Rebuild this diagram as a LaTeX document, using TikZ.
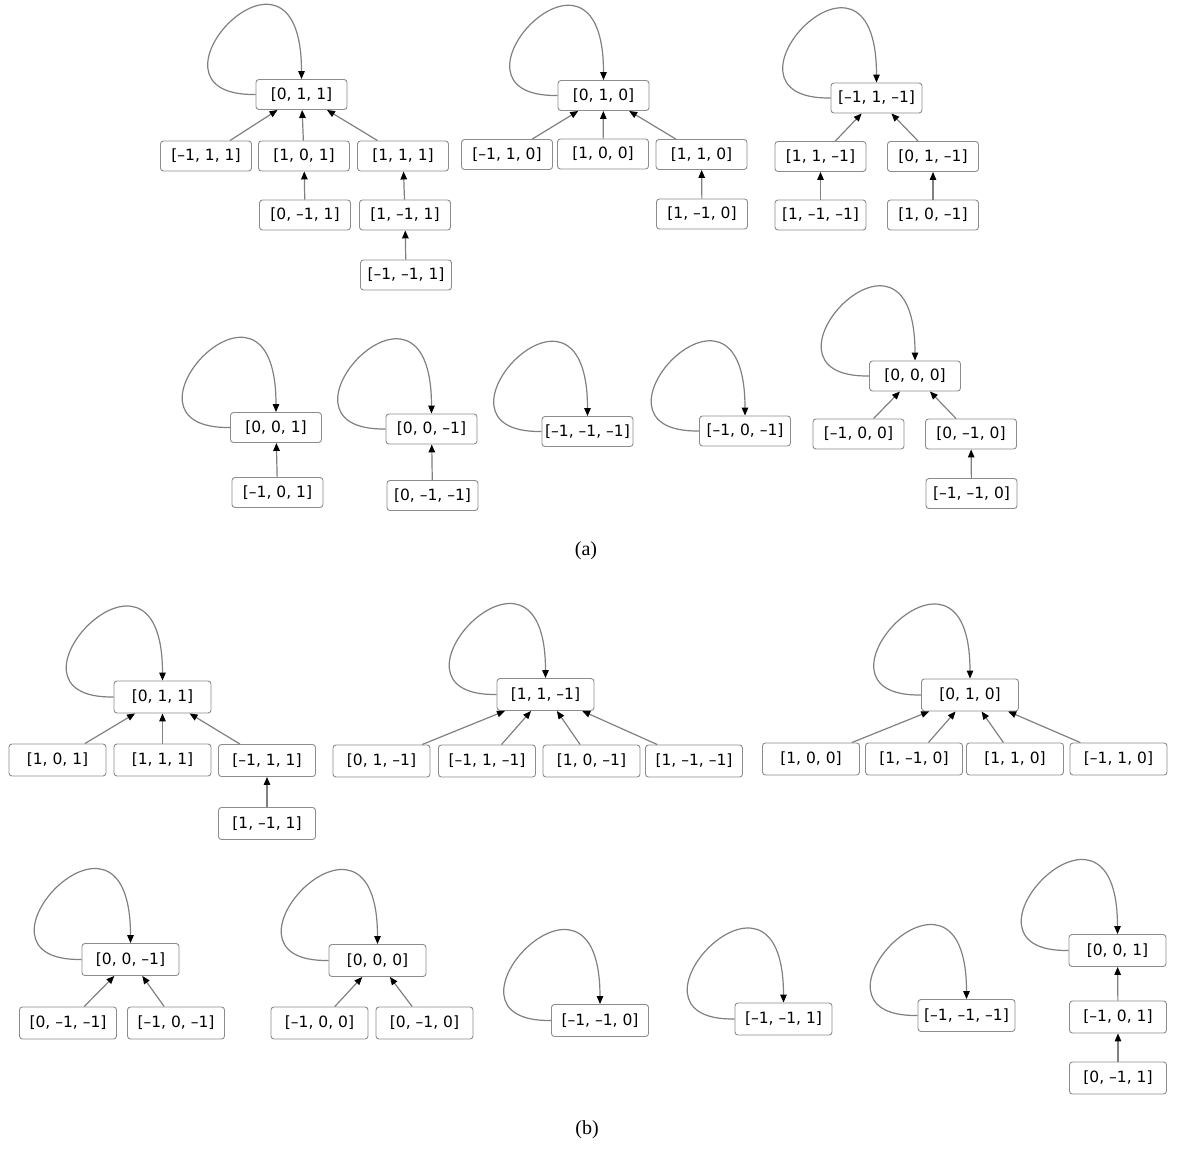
\documentclass[tikz,border=0pt]{standalone}
\usepackage{fontspec}
\newfontfamily\dv{DejaVu Sans}
\newfontfamily\lserif{Liberation Serif}
\usetikzlibrary{arrows.meta}
\tikzset{
  nda/.style={draw=black!45, rounded corners=3pt, minimum width=91pt, minimum height=30pt,
    inner xsep=1pt, inner ysep=0pt, line width=0.9pt, font=\dv\fontsize{15.5}{18}\selectfont},
  ndb/.style={nda, minimum width=97pt, minimum height=32pt},
  ed/.style={draw=black!50, line width=1.2pt, -{Triangle[length=8pt,width=6.5pt,color=black]}},
  lp/.style={ed},
  captxt/.style={font=\lserif\fontsize{20}{24}\selectfont}
}
\newcommand{\selfloop}[1]{\draw[lp] (#1.west) .. controls +(-130,2) and +(0,-172) .. (#1.north);}
\begin{document}
\begin{tikzpicture}[x=1pt,y=-1pt]
\useasboundingbox (0,0) rectangle (1179,1164);
% ---------- (a) ----------
\node[nda] (a011) at (301.5,94.5) {[0, 1, 1]};
\node[nda] (am111) at (206,156) {[–1, 1, 1]};
\node[nda] (a101) at (304,156) {[1, 0, 1]};
\node[nda] (a111) at (403,156) {[1, 1, 1]};
\node[nda] (a0m11) at (305,215) {[0, –1, 1]};
\node[nda] (a1m11) at (405,215) {[1, –1, 1]};
\node[nda] (am1m11) at (406,275) {[–1, –1, 1]};
\selfloop{a011}
\draw[ed] (am111) -- (a011);
\draw[ed] (a101) -- (a011);
\draw[ed] (a111) -- (a011);
\draw[ed] (a0m11) -- (a101);
\draw[ed] (a1m11) -- (a111);
\draw[ed] (am1m11) -- (a1m11);

\node[nda] (a010) at (603.5,95.5) {[0, 1, 0]};
\node[nda] (am110) at (507,154.5) {[–1, 1, 0]};
\node[nda] (a100) at (603,154) {[1, 0, 0]};
\node[nda] (a110) at (701.5,154.5) {[1, 1, 0]};
\node[nda] (a1m10) at (702,214) {[1, –1, 0]};
\selfloop{a010}
\draw[ed] (am110) -- (a010);
\draw[ed] (a100) -- (a010);
\draw[ed] (a110) -- (a010);
\draw[ed] (a1m10) -- (a110);

\node[nda] (am11m1) at (876.5,98) {[–1, 1, –1]};
\node[nda] (a11m1) at (820.5,156.5) {[1, 1, –1]};
\node[nda] (a01m1) at (933,156.5) {[0, 1, –1]};
\node[nda] (a1m1m1) at (820.5,215) {[1, –1, –1]};
\node[nda] (a10m1) at (933,215) {[1, 0, –1]};
\selfloop{am11m1}
\draw[ed] (a11m1) -- (am11m1);
\draw[ed] (a01m1) -- (am11m1);
\draw[ed] (a1m1m1) -- (a11m1);
\draw[ed] (a10m1) -- (a01m1);

\node[nda] (a001) at (276,427.5) {[0, 0, 1]};
\node[nda] (am101) at (277.5,492.5) {[–1, 0, 1]};
\selfloop{a001}
\draw[ed] (am101) -- (a001);

\node[nda] (a00m1) at (431.5,429) {[0, 0, –1]};
\node[nda] (a0m1m1) at (432.5,495.5) {[0, –1, –1]};
\selfloop{a00m1}
\draw[ed] (a0m1m1) -- (a00m1);

\node[nda] (am1m1m1) at (587.5,431.5) {[–1, –1, –1]};
\selfloop{am1m1m1}

\node[nda] (am10m1) at (745,431) {[–1, 0, –1]};
\selfloop{am10m1}

\node[nda] (a000) at (915,376) {[0, 0, 0]};
\node[nda] (am100) at (858.5,434) {[–1, 0, 0]};
\node[nda] (a0m10) at (971,434) {[0, –1, 0]};
\node[nda] (am1m10) at (971.5,493.5) {[–1, –1, 0]};
\selfloop{a000}
\draw[ed] (am100) -- (a000);
\draw[ed] (a0m10) -- (a000);
\draw[ed] (am1m10) -- (a0m10);

\node[captxt] (capa) at (586,551) {(a)};

% ---------- (b) ----------
\node[ndb] (b011) at (162.5,697) {[0, 1, 1]};
\node[ndb] (b101) at (57.5,760) {[1, 0, 1]};
\node[ndb] (b111) at (162.5,760) {[1, 1, 1]};
\node[ndb] (bm111) at (267,760.5) {[–1, 1, 1]};
\node[ndb] (b1m11) at (267,823.5) {[1, –1, 1]};
\selfloop{b011}
\draw[ed] (b101) -- (b011);
\draw[ed] (b111) -- (b011);
\draw[ed] (bm111) -- (b011);
\draw[ed] (b1m11) -- (bm111);

\node[ndb] (b11m1) at (545.5,694.5) {[1, 1, –1]};
\node[ndb] (b01m1) at (381.5,761) {[0, 1, –1]};
\node[ndb] (bm11m1) at (487,761) {[–1, 1, –1]};
\node[ndb] (b10m1) at (591.5,761) {[1, 0, –1]};
\node[ndb] (b1m1m1) at (694,761) {[1, –1, –1]};
\selfloop{b11m1}
\draw[ed] (b01m1) -- (b11m1);
\draw[ed] (bm11m1) -- (b11m1);
\draw[ed] (b10m1) -- (b11m1);
\draw[ed] (b1m1m1) -- (b11m1);

\node[ndb] (b010) at (970,695) {[0, 1, 0]};
\node[ndb] (b100) at (811,759) {[1, 0, 0]};
\node[ndb] (b1m10) at (914,759) {[1, –1, 0]};
\node[ndb] (b110) at (1015,759) {[1, 1, 0]};
\node[ndb] (bm110) at (1118.5,759) {[–1, 1, 0]};
\selfloop{b010}
\draw[ed] (b100) -- (b010);
\draw[ed] (b1m10) -- (b010);
\draw[ed] (b110) -- (b010);
\draw[ed] (bm110) -- (b010);

\node[ndb] (b00m1) at (130.5,959.5) {[0, 0, –1]};
\node[ndb] (b0m1m1) at (68,1023) {[0, –1, –1]};
\node[ndb] (bm10m1) at (176,1023) {[–1, 0, –1]};
\selfloop{b00m1}
\draw[ed] (b0m1m1) -- (b00m1);
\draw[ed] (bm10m1) -- (b00m1);

\node[ndb] (b000) at (377.5,960.5) {[0, 0, 0]};
\node[ndb] (bm100) at (319.5,1023) {[–1, 0, 0]};
\node[ndb] (b0m10) at (424.5,1023) {[0, –1, 0]};
\selfloop{b000}
\draw[ed] (bm100) -- (b000);
\draw[ed] (b0m10) -- (b000);

\node[ndb] (bm1m10) at (600,1020.5) {[–1, –1, 0]};
\selfloop{bm1m10}
\node[ndb] (bm1m11) at (783.5,1019) {[–1, –1, 1]};
\selfloop{bm1m11}
\node[ndb] (bm1m1m1) at (966.5,1015.5) {[–1, –1, –1]};
\selfloop{bm1m1m1}

\node[ndb] (b001) at (1117.5,950.5) {[0, 0, 1]};
\node[ndb] (bm101) at (1118,1017) {[–1, 0, 1]};
\node[ndb] (b0m11) at (1118,1078) {[0, –1, 1]};
\selfloop{b001}
\draw[ed] (bm101) -- (b001);
\draw[ed] (b0m11) -- (bm101);

\node[captxt] (capb) at (587,1130) {(b)};
\end{tikzpicture}
\end{document}
